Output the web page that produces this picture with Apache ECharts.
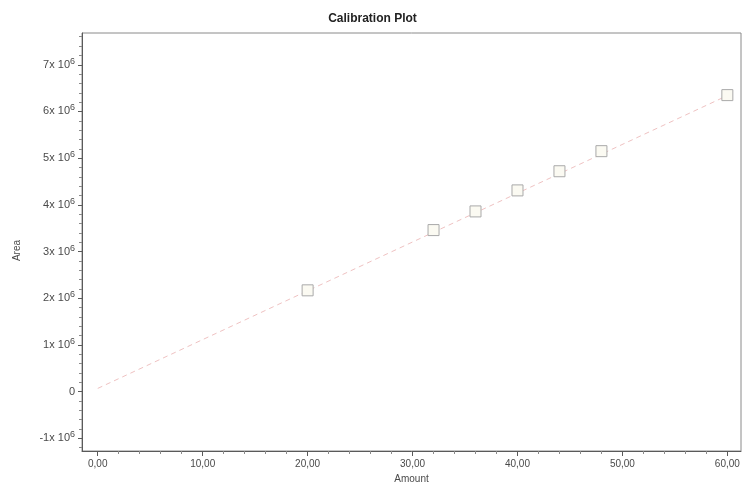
<!DOCTYPE html>
<html>
<head>
<meta charset="utf-8">
<script src="https://cdn.jsdelivr.net/npm/echarts@6/dist/echarts.min.js"></script>
<style>
  html, body { margin: 0; padding: 0; background: #ffffff; }
  #chart { width: 745px; height: 484px; }
</style>
</head>
<body>
<div id="chart"></div>
<script>
// Calibration standards: amount vs. peak area
const amounts = [20, 32, 36, 40, 44, 48, 60];
const areas = [2.17e6, 3.46e6, 3.86e6, 4.31e6, 4.72e6, 5.15e6, 6.35e6];

// Endpoints of the fitted calibration line
const fitAmounts = [0, 60];
const fitAreas = [0.07e6, 6.34e6];

// Axis tick values
const xTicks = [0, 10, 20, 30, 40, 50, 60];
const xMinorTicks = [2, 4, 6, 8, 12, 14, 16, 18, 22, 24, 26, 28, 32, 34, 36, 38, 42, 44, 46, 48, 52, 54, 56, 58];
const yTicks = [-1e6, 0, 1e6, 2e6, 3e6, 4e6, 5e6, 6e6, 7e6];
const yMinorTicks = [];
for (let m = -1.2e6; m <= 7.6e6; m += 0.2e6) {
  const r = Math.round(m / 1e5) * 1e5;
  if (r % 1e6 !== 0) yMinorTicks.push(r);
}

const FONT = 'Liberation Sans, Arial, sans-serif';
const AXIS_COLOR = '#5a5a5a';
const TEXT_COLOR = '#4a4a4a';

const chart = echarts.init(document.getElementById('chart'));

const xRange = { min: -1.5, max: 61.3 };
const yRange = { min: -1.27e6, max: 7.68e6 };

chart.setOption({
  animation: false,
  backgroundColor: '#ffffff',
  title: {
    text: 'Calibration Plot',
    left: 'center',
    top: 8,
    textStyle: { fontFamily: FONT, fontSize: 12, fontWeight: 'bold', color: '#222' }
  },
  graphic: [
    {
      type: 'text',
      left: 12,
      top: 240,
      rotation: Math.PI / 2,
      style: { text: 'Area', font: '10px ' + FONT, fill: TEXT_COLOR }
    }
  ],
  grid: {
    left: 82, right: 4, top: 33, bottom: 33,
    outerBoundsMode: 'none',
    containLabel: false,
    show: true,
    borderColor: '#8a8a8a',
    borderWidth: 1,
    backgroundColor: 'transparent'
  },
  xAxis: [
    {
      type: 'value',
      min: xRange.min, max: xRange.max,
      position: 'bottom',
      name: 'Amount',
      nameLocation: 'middle',
      nameGap: 20,
      nameTextStyle: { fontFamily: FONT, fontSize: 10, color: TEXT_COLOR },
      axisLine: { show: true, onZero: false, lineStyle: { color: AXIS_COLOR, width: 1 } },
      axisTick: { show: true, customValues: xTicks, length: 5, inside: false, lineStyle: { color: AXIS_COLOR } },
      axisLabel: {
        customValues: xTicks,
        margin: 8,
        fontFamily: FONT, fontSize: 10, color: TEXT_COLOR,
        formatter: v => v.toFixed(2).replace('.', ',')
      },
      splitLine: { show: false }
    },
    {
      type: 'value',
      min: xRange.min, max: xRange.max,
      position: 'bottom',
      offset: 0,
      axisLine: { show: false, onZero: false },
      axisTick: { show: true, customValues: xMinorTicks, length: 3, lineStyle: { color: '#8a8a8a' } },
      axisLabel: { show: false },
      splitLine: { show: false }
    }
  ],
  yAxis: [
    {
      type: 'value',
      min: yRange.min, max: yRange.max,
      position: 'left',
      axisLine: { show: true, onZero: false, lineStyle: { color: AXIS_COLOR, width: 1 } },
      axisTick: { show: true, customValues: yTicks, length: 4, lineStyle: { color: AXIS_COLOR } },
      axisLabel: {
        customValues: yTicks,
        margin: 7,
        fontFamily: FONT, fontSize: 11, color: TEXT_COLOR,
        formatter: v => v === 0 ? '{m|0}' : '{m|' + Math.round(v / 1e6) + 'x 10}{s|6}',
        rich: {
          m: { fontFamily: FONT, fontSize: 11, color: TEXT_COLOR },
          s: { fontFamily: FONT, fontSize: 9, color: TEXT_COLOR, padding: [0, 0, 7, 0] }
        }
      },
      splitLine: { show: false }
    },
    {
      type: 'value',
      min: yRange.min, max: yRange.max,
      position: 'left',
      offset: 0,
      axisLine: { show: false, onZero: false },
      axisTick: { show: true, customValues: yMinorTicks, length: 3, lineStyle: { color: '#8a8a8a' } },
      axisLabel: { show: false },
      splitLine: { show: false }
    }
  ],
  series: [
    {
      name: 'Fit',
      type: 'line',
      xAxisIndex: 0, yAxisIndex: 0,
      data: fitAmounts.map((x, i) => [x, fitAreas[i]]),
      showSymbol: false,
      symbol: 'none',
      lineStyle: { color: '#efc2c2', width: 1, type: [5, 4] },
      z: 1,
      silent: true
    },
    {
      name: 'Standards',
      type: 'scatter',
      xAxisIndex: 0, yAxisIndex: 0,
      data: amounts.map((x, i) => [x, areas[i]]),
      symbol: 'rect',
      symbolSize: 11,
      itemStyle: { color: '#fbfaf2', borderColor: '#a9a9a9', borderWidth: 1, opacity: 1 },
      z: 3
    }
  ]
});
</script>
</body>
</html>
